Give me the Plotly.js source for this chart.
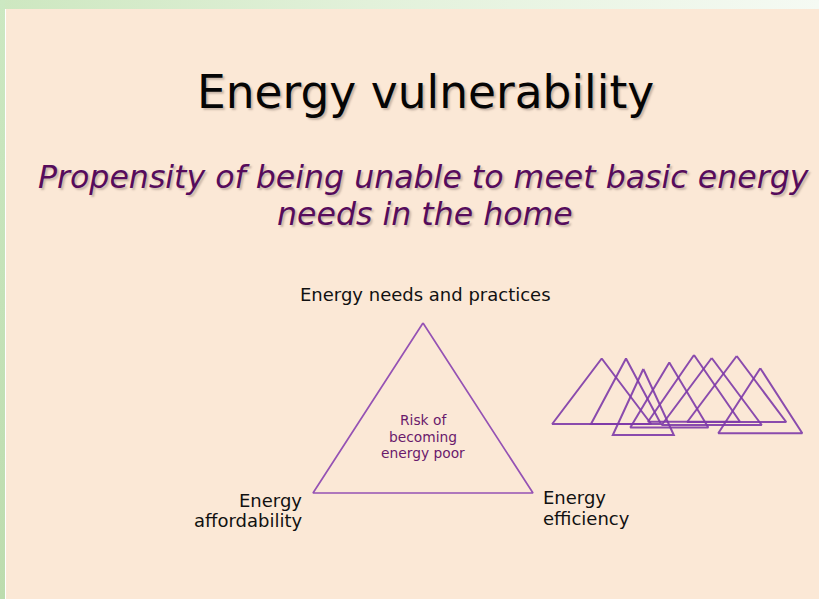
<!DOCTYPE html>
<html>
<head>
<meta charset="utf-8">
<script src="https://cdn.plot.ly/plotly-3.0.1.min.js"></script>
<style>
  html, body { margin:0; padding:0; }
  body { width:819px; height:599px; position:relative; overflow:hidden; background:#ffffff; }
  #topstrip { position:absolute; left:0; top:0; width:819px; height:9px;
    background:linear-gradient(to right, #cde7c0 0%, #e2f1da 45%, #f5faf3 100%); }
  #leftstrip { position:absolute; left:0; top:0; width:5px; height:599px;
    background:linear-gradient(to bottom, #cce8c2 0%, #bcdcae 100%); }
  #slide { position:absolute; left:6px; top:9px; width:813px; height:590px; background:#fbe8d6; }
  #chart { position:absolute; left:0; top:0; width:819px; height:599px; }
</style>
</head>
<body>
<div id="topstrip"></div>
<div id="leftstrip"></div>
<div id="slide"></div>
<div id="chart"></div>
<script>
// ---- Data ----
// Main triangle (vertices: apex, bottom-left, bottom-right)
const mainTriX = [423, 313, 533];
const mainTriY = [323, 493, 493];

// Small overlapping triangles: apex x, apex y, base y, half-width of base
const smallApexX = [601.7, 626, 643.3, 669.3, 694, 711.7, 736.7, 760.3];
const smallApexY = [358.5, 358.5, 369, 362.5, 355, 358, 356, 368.3];
const smallBaseY = [424, 424, 435, 427.5, 421.8, 425, 422, 433.3];
const smallHalfW = [49.5, 35, 30.5, 39, 46, 50, 49.5, 42];

// Texts
const titleText = "Energy vulnerability";
const subtitleLines = ["Propensity of being unable to meet basic energy", "needs in the home"];
const topLabel = "Energy needs and practices";
const leftLabel = ["Energy", "affordability"];
const rightLabel = ["Energy", "efficiency"];
const innerLines = ["Risk of", "becoming", "energy poor"];

// ---- Build traces ----
const traces = [];
traces.push({
  type: "scatter", mode: "lines",
  x: [mainTriX[0], mainTriX[1], mainTriX[2], mainTriX[0]],
  y: [mainTriY[0], mainTriY[1], mainTriY[2], mainTriY[0]],
  line: { color: "#9552b4", width: 1.7 },
  hoverinfo: "skip", showlegend: false
});
for (let i = 0; i < smallApexX.length; i++) {
  const ax = smallApexX[i], ay = smallApexY[i], by = smallBaseY[i], hw = smallHalfW[i];
  traces.push({
    type: "scatter", mode: "lines",
    x: [ax, ax - hw, ax + hw, ax],
    y: [ay, by, by, ay],
    line: { color: "#7d3aa8", width: 2 },
    opacity: 0.9,
    hoverinfo: "skip", showlegend: false
  });
}

const FONT = "DejaVu Sans, Verdana, sans-serif";
const annotations = [];
function addText(text, x, y, size, color, xanchor, italic) {
  annotations.push({ text: italic ? "<i>" + text + "</i>" : text, x: x, y: y, xref: "x", yref: "y",
    showarrow: false, xanchor: xanchor, yanchor: "middle",
    font: { family: FONT, size: size, color: color } });
}
addText(titleText, 425, 92, 45.5, "#050505", "center", false);
addText(subtitleLines[0], 424, 177, 31.6, "#560c5c", "center", true);
addText(subtitleLines[1], 425, 214, 31.6, "#560c5c", "center", true);
addText(topLabel, 425, 294, 18, "#111111", "center", false);
addText(leftLabel[0], 304, 500, 18, "#111111", "right", false);
addText(leftLabel[1], 304, 520.5, 18, "#111111", "right", false);
addText(rightLabel[0], 541, 497.5, 18, "#111111", "left", false);
addText(rightLabel[1], 541, 518.5, 18, "#111111", "left", false);
addText(innerLines[0], 423, 420, 13.8, "#6a1a6c", "center", false);
addText(innerLines[1], 423, 436.8, 13.8, "#6a1a6c", "center", false);
addText(innerLines[2], 423, 453.4, 13.8, "#6a1a6c", "center", false);

const layout = {
  width: 819, height: 599,
  margin: { l: 0, r: 0, t: 0, b: 0, pad: 0 },
  paper_bgcolor: "rgba(0,0,0,0)",
  plot_bgcolor: "rgba(0,0,0,0)",
  xaxis: { range: [0, 819], visible: false, fixedrange: true },
  yaxis: { range: [599, 0], visible: false, fixedrange: true },
  annotations: annotations,
  showlegend: false
};
Plotly.newPlot("chart", traces, layout, { staticPlot: true, displayModeBar: false }).then(function () {
  // soft drop shadow on the title and subtitle, as on the slide
  const texts = document.querySelectorAll("#chart .annotation-text");
  for (let i = 0; i < 3 && i < texts.length; i++) {
    texts[i].style.textShadow = "2px 2px 2px rgba(110,90,80,0.35)";
  }
});
</script>
</body>
</html>
